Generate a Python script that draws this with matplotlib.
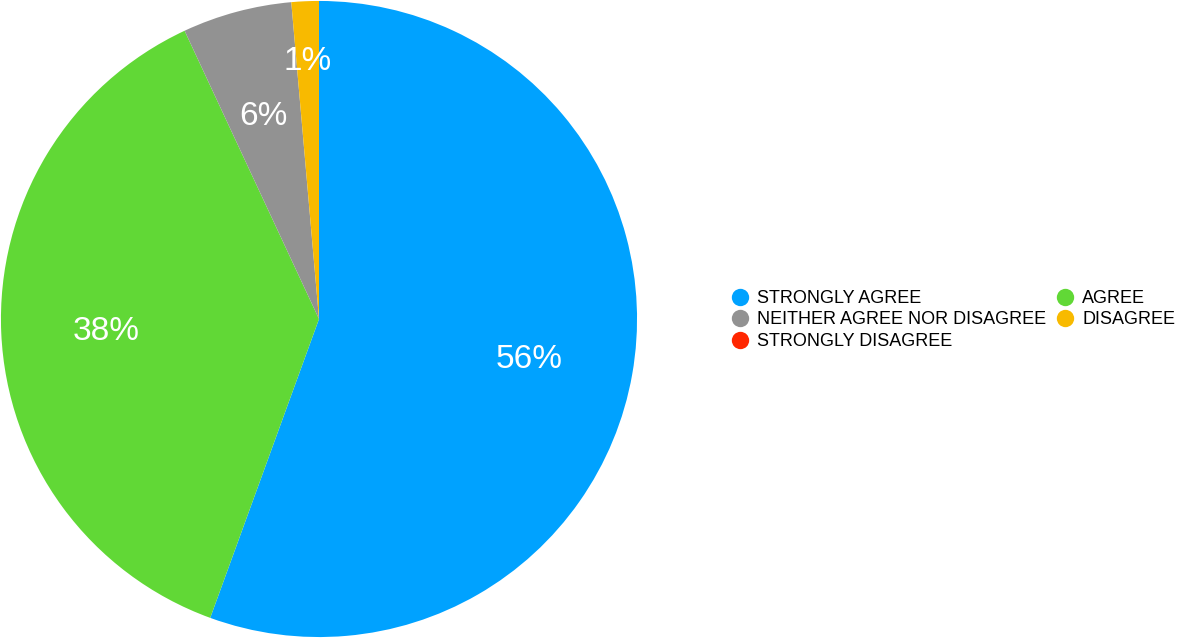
import matplotlib.pyplot as plt
from matplotlib.lines import Line2D

plt.rcParams['font.family'] = ['Liberation Sans', 'DejaVu Sans']

# survey answers (counts)
categories = ['STRONGLY AGREE', 'AGREE', 'NEITHER AGREE NOR DISAGREE', 'DISAGREE', 'STRONGLY DISAGREE']
counts = [40, 27, 4, 1, 0]
colors = ['#00A2FF', '#61D836', '#929292', '#F8BA00', '#FF2600']

fig = plt.figure(figsize=(11.83, 6.38), dpi=100)
ax = fig.add_axes([0, 0, 638 / 1183, 1])

wedges, texts, autotexts = ax.pie(
    counts, colors=colors, startangle=90, counterclock=False,
    autopct=lambda p: f'{p:.0f}%' if p > 0 else '',
    pctdistance=0.67, radius=1.0,
    textprops=dict(color='white', fontsize=24),
    wedgeprops=dict(linewidth=0),
)
for t in autotexts:
    t.set_verticalalignment('center_baseline')
# the tiny slice label sits further out
x, y = autotexts[3].get_position()
autotexts[3].set_position((x * 0.82 / 0.67, y * 0.82 / 0.67))

ax.set_xlim(-1.003, 1.003)
ax.set_ylim(-1.003, 1.003)
ax.set_aspect('equal')
ax.axis('off')

# legend filled column-wise: left column SA, NEITHER, SD; right column AGREE, DISAGREE
order = [0, 2, 4, 1, 3]
handles = [Line2D([], [], marker='o', linestyle='none', markersize=12.5,
                  markerfacecolor=colors[i], markeredgewidth=0) for i in order]
labels = [categories[i] for i in order]
fig.legend(handles, labels, loc='center left', bbox_to_anchor=(722 / 1183, 1 - 320 / 638),
           ncol=2, frameon=False, fontsize=13, handletextpad=0.45,
           columnspacing=0.55, labelspacing=0.25, handlelength=1.0, borderpad=0)

fig.savefig('out.png', dpi=100)
